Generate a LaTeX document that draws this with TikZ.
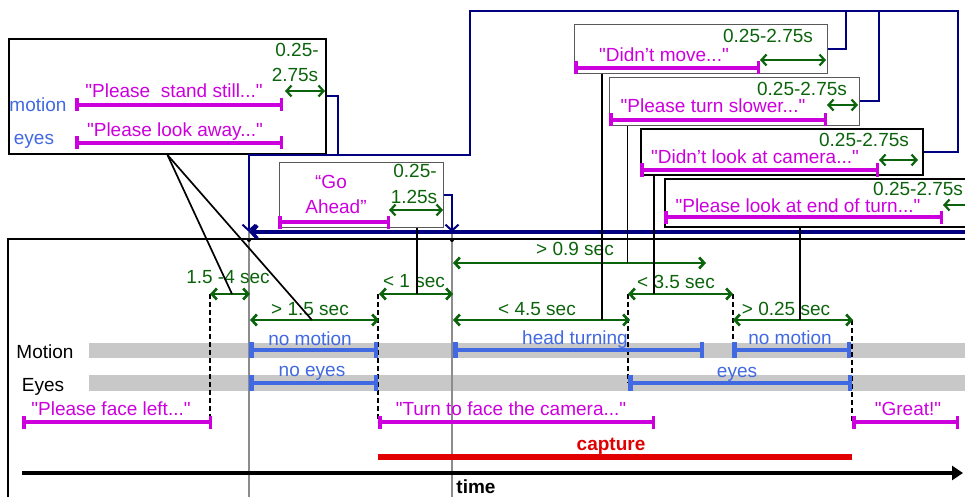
\documentclass[tikz,border=0pt]{standalone}
\usepackage{fontspec}
\setmainfont{Liberation Sans}[Ligatures=TeXOff]
\usetikzlibrary{arrows.meta,calc}
\definecolor{ink}{HTML}{000000}
\definecolor{leaf}{HTML}{0B640B}
\definecolor{royal}{HTML}{4169E1}
\definecolor{navy}{HTML}{000080}
\definecolor{plum}{HTML}{CC00DD}
\definecolor{scarlet}{HTML}{E00000}
\definecolor{track}{HTML}{C8C8C8}
\definecolor{pewter}{HTML}{8C8C8C}

\begin{document}
\begin{tikzpicture}[x=1pt,y=-1pt,font=\fontsize{19}{22}\selectfont,
  txt/.style={inner sep=0pt,anchor=base},
  cue/.style={draw,anchor=north west,inner sep=0pt},
  dur/.style={leaf,line width=2.7pt,
    {Straight Barb[length=5pt,width=11pt]}-{Straight Barb[length=5pt,width=11pt]}},
  say/.style={plum,line width=3.5pt,{Bar[width=13pt]}-{Bar[width=13pt]}},
  span/.style={royal,line width=4.5pt,{Bar[width=16pt]}-{Bar[width=16pt]}},
  wire/.style={navy,line width=2pt},
  arrowend/.style={-{Straight Barb[length=6pt,width=13pt]}},
  link/.style={ink,line width=1.7pt},
  dashline/.style={ink,line width=1.6pt,dash pattern=on 5pt off 3pt}]
  \useasboundingbox (0,0) rectangle (965,497);

  % Timeline frame and tracks
  \draw[ink,line width=2pt] (8,239) rectangle (990,520);
  \fill[track] (89,343) rectangle (975,358);
  \fill[track] (89,375) rectangle (975,391);
  \node[txt] at (45,358) {Motion};
  \node[txt] at (43,391) {Eyes};

  % Gray time markers
  \draw[pewter,line width=1.5pt] (249,232) -- (249,505);
  \draw[pewter,line width=1.5pt] (452,232) -- (452,505);
  \fill[ink] (249,240) circle (2);
  \fill[ink] (452,240) circle (2);

  % Dashed boundaries
  \draw[dashline] (210,294) -- (210,423);
  \draw[dashline] (378,294) -- (378,422);
  \draw[dashline] (628,294) -- (628,383);
  \draw[dashline] (733,294) -- (733,350);
  \draw[dashline] (852,320) -- (852,422);

  % Motion / eyes states
  \draw[span] (249,350) -- (378,350);
  \draw[span] (453,350) -- (704,350);
  \draw[span] (732,350) -- (851,350);
  \draw[span] (249,383) -- (378,383);
  \draw[span] (628,383) -- (852,383);
  \node[txt,royal] at (310,345) {no motion};
  \node[txt,royal] at (575,344) {head turning};
  \node[txt,royal] at (790,344) {no motion};
  \node[txt,royal] at (312,376) {no eyes};
  \node[txt,royal] at (737,377) {eyes};

  % Durations
  \draw[dur] (210,294) -- coordinate[pos=.55] (dLead) (250,294);
  \node[txt,leaf] at (228,283) {1.5 -4 sec};
  \draw[dur] (250,320) -- coordinate[pos=.48] (dStill) (379,320);
  \node[txt,leaf] at (310,315) {> 1.5 sec};
  \draw[dur] (379,294) -- coordinate[pos=.51] (dGo) (453,294);
  \node[txt,leaf] at (414,287) {< 1 sec};
  \draw[dur] (453,263) -- coordinate[pos=.69] (dSlow) (706,263);
  \node[txt,leaf] at (575,255) {> 0.9 sec};
  \draw[dur] (453,320) -- coordinate[pos=.84] (dTurn) (630,320);
  \node[txt,leaf] at (537,315) {< 4.5 sec};
  \draw[dur] (628,294) -- coordinate[pos=.25] (dLook) (733,294);
  \node[txt,leaf] at (676,288) {< 3.5 sec};
  \draw[dur] (733,320) -- coordinate[pos=.56] (dEnd) (853,320);
  \node[txt,leaf] at (786,315) {> 0.25 sec};

  % Prompts, capture and time axis
  \draw[say] (22,422) -- (212,422);
  \node[txt,plum] at (111,415) {"Please face left..."};
  \draw[say] (378,422) -- (655,422);
  \node[txt,plum] at (511,415) {"Turn to face the camera..."};
  \draw[say] (852,422) -- (959,422);
  \node[txt,plum] at (908,415) {"Great!"};
  \draw[scarlet,line width=6pt] (378,457) -- (852,457);
  \node[txt,scarlet,font=\fontsize{19}{22}\selectfont\bfseries] at (611,450) {capture};
  \draw[ink,line width=4.5pt,-{Triangle[length=11pt,width=14pt]}] (22,473) -- (963,473);
  \node[txt,font=\fontsize{19}{22}\selectfont\bfseries] at (476,493) {time};

  % Stand still / look away
  \node[cue,line width=2pt,minimum width=317pt,minimum height=115pt] (bstill) at (8,38) {};
  \node[txt,leaf] at (297,57) {0.25-};
  \node[txt,leaf] at (295,82) {2.75s};
  \draw[dur,line width=2.2pt] (285,91) -- (325,91);
  \node[txt,royal] at (38,112) {motion};
  \node[txt,royal] at (34,145) {eyes};
  \draw[say] (75,105) -- (283,105);
  \node[txt,plum] at (174,98) {"Please\ \ stand still..."};
  \draw[say] (75,143) -- (283,143);
  \node[txt,plum] at (175,137) {"Please look away..."};

  % Go ahead
  \node[cue,draw=ink!65,line width=1pt,minimum width=164pt,minimum height=65pt] (bgo) at (279,162) {};
  \node[txt,plum] at (331,188) {“Go};
  \node[txt,plum] at (336,213) {Ahead”};
  \node[txt,leaf] at (415,177) {0.25-};
  \node[txt,leaf] at (414,203) {1.25s};
  \draw[dur,line width=2.2pt] (389,210) -- (443,210);
  \draw[say] (278,222) -- (390,222);

  % Didn't move
  \node[cue,draw=ink!65,line width=1pt,minimum width=253pt,minimum height=49pt] (bmove) at (574,24) {};
  \node[txt,leaf] at (768,43) {0.25-2.75s};
  \node[txt,plum] at (664,62) {"Didn’t move..."};
  \draw[say] (574,68) -- (760,68);
  \draw[dur,line width=2.2pt] (760,60) -- (826,60);

  % Turn slower
  \node[cue,draw=ink!65,line width=1pt,minimum width=250pt,minimum height=48pt] (bslow) at (609,77) {};
  \node[txt,leaf] at (802,96) {0.25-2.75s};
  \node[txt,plum] at (713,113) {"Please turn slower..."};
  \draw[say] (609,120) -- (827,120);
  \draw[dur,line width=2.2pt] (827,105) -- (858,105);

  % Look at camera
  \node[cue,line width=2pt,minimum width=282pt,minimum height=46pt] (bcam) at (640,128) {};
  \node[txt,leaf] at (864,147) {0.25-2.75s};
  \node[txt,plum] at (755,164) {"Didn’t look at camera..."};
  \draw[say] (640,170) -- (879,170);
  \draw[dur,line width=2.2pt] (879,160) -- (918,160);

  % End of turn
  \node[cue,line width=1.5pt,minimum width=340pt,minimum height=48pt] (bend) at (664,178) {};
  \node[txt,leaf,anchor=base west] at (873,195) {0.25-2.75s};
  \node[txt,plum] at (798,212) {"Please look at end of turn..."};
  \draw[say] (664,217) -- (943,217);
  \draw[dur,line width=2.2pt] (943,205) -- (990,205);

  % Feedback wiring
  \coordinate (hubA) at (249,232);
  \coordinate (hubB) at (452,232);
  \draw[wire,arrowend] (bstill.east) -| (338,155) -| (hubA);
  \draw[wire] (338,155) -| (470,11) -- (958,11) |- (bcam.east);
  \draw[wire] (bmove.east) -| (846,11);
  \draw[wire] (bslow.east) -| (879,11);
  \draw[wire,arrowend] (bgo.east) -| (hubB);
  \draw[navy,line width=3.5pt,arrowend] (990,232) -- (hubA);

  % Links to durations
  \draw[link] (bstill.south) -- (dLead);
  \draw[link] (bstill.south) -- (dStill);
  \draw[link] (bgo.south -| dGo) -- (dGo);
  \draw[link] (bmove.south -| dTurn) -- (dTurn);
  \draw[link] (bslow.south -| dSlow) -- (dSlow);
  \draw[link] (bcam.south -| dLook) -- (dLook);
  \draw[link] (bend.south -| dEnd) -- (dEnd);
\end{tikzpicture}
\end{document}
